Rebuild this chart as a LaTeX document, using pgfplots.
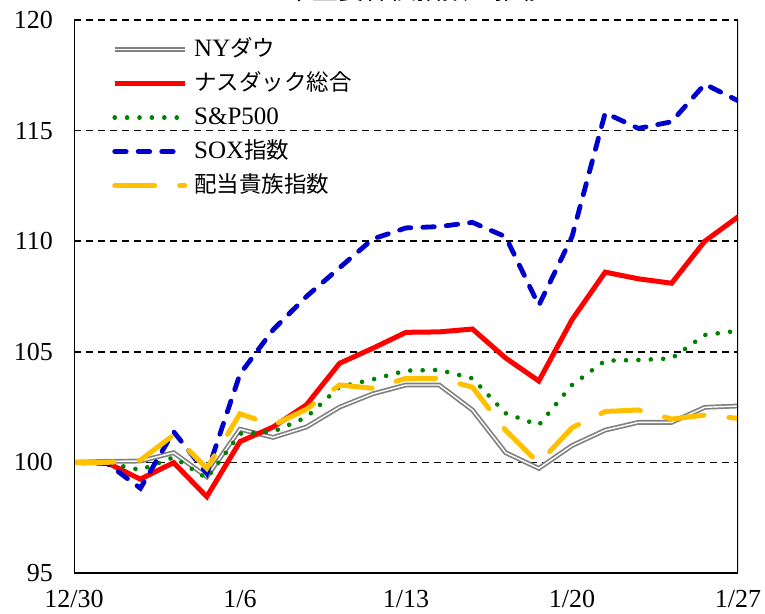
\documentclass[border=0pt]{standalone}
\usepackage{fontspec}
\setmainfont{Liberation Serif}
\newfontfamily\jp{Noto Sans CJK JP}
\usepackage{pgfplots}
\usepackage{pgfplotstable}
\pgfplotsset{compat=1.18}
\definecolor{dowgray}{RGB}{128,128,128}
\definecolor{nasred}{RGB}{255,0,0}
\definecolor{spgreen}{RGB}{0,128,0}
\definecolor{soxblue}{RGB}{0,0,204}
\definecolor{divyellow}{RGB}{255,192,0}
\newcommand{\jpt}[1]{{\jp\fontsize{22.5}{25}\selectfont #1}}
\pgfplotstableread{
i   dow     nas     sp      sox     div
0   100     100     100     100     100
1   100.05  99.98   99.97   99.95   100.0
2   100.06  99.24   99.66   98.83   100.1
3   100.44  99.99   100.23  101.39  101.24
4   99.35   98.45   99.28   99.5    99.73
5   101.5   100.94  101.3   104.0   102.2
6   101.13  101.6   101.39  106.0   101.68
7   101.6   102.6   102.04  107.5   102.4
8   102.5   104.48  103.42  108.8   103.5
9   103.1   105.16  103.75  110.1   103.35
10  103.5   105.88  104.15  110.6   103.8
11  103.5   105.9   104.18  110.66  103.8
12  102.37  106.03  103.8   110.85  103.4
13  100.44  104.72  102.22  110.2   101.45
14  99.73   103.68  101.69  107.1   99.96
15  100.76  106.45  103.5   110.2   101.57
16  101.46  108.6   104.6   115.8   102.3
17  101.81  108.3   104.63  115.1   102.37
18  101.81  108.1   104.7   115.4   101.96
19  102.49  110.0   105.76  117.1   102.14
20  102.55  111.1   105.95  116.35  101.99
}\data
\begin{document}
\begin{tikzpicture}
\useasboundingbox (0,0) rectangle (765pt,613pt);
\clip (0,0) rectangle (765pt,613pt);
\node[anchor=base, inner sep=0pt] at (416pt,613.5pt) {\jp\fontsize{26}{28}\selectfont 米主要株価指数の推移};
\begin{axis}[
  at={(74pt,40pt)}, anchor=south west,
  scale only axis, width=664pt, height=553pt,
  xmin=0, xmax=20, ymin=95, ymax=120,
  xtick={0,5,10,15,20},
  xticklabels={12/30,1/6,1/13,1/20,1/27},
  ytick={95,100,105,110,115,120},
  major tick length=0pt,
  /pgf/number format/assume math mode=true,
  ticklabel style={font=\rmfamily\fontsize{26}{28}\selectfont, inner sep=0pt},
  yticklabel style={xshift=-21pt},
  xticklabel style={yshift=-17pt},
  ymajorgrids,
  major grid style={black, line width=1.6pt, dash pattern=on 7pt off 5pt},
  axis line style={draw=none},
  legend image code/.code={\draw[#1] (0pt,0pt) -- (70pt,0pt);},
  legend style={at={(axis description cs:0,1)}, anchor=north west,
    xshift=38pt, yshift=-17pt, draw=none, fill=none, inner sep=0pt,
    row sep=9pt, column sep=7pt,
    font=\rmfamily\fontsize{25}{25}\selectfont,
    nodes={inner sep=0pt, text height=19pt, text depth=6pt}},
  legend cell align=left,
]
\addplot[draw=dowgray, line width=1.7pt, double=white, double distance=1.4pt, no markers] table[x=i,y=dow] {\data};
\addlegendentry{NY\jpt{ダウ}}
\addplot[draw=nasred, line width=5pt, no markers] table[x=i,y=nas] {\data};
\addlegendentry{\jpt{ナスダック総合}}
\addplot[draw=spgreen, line width=4.6pt, line cap=round, dash pattern=on 0.01pt off 12.4pt, no markers] table[x=i,y=sp] {\data};
\addlegendentry{S\&P500}
\addplot[draw=soxblue, line width=4.8pt, line cap=round, dash pattern=on 11.5pt off 12pt, no markers] table[x=i,y=sox] {\data};
\addlegendentry{SOX\jpt{指数}}
\addplot[draw=divyellow, line width=5pt, line cap=round, dash pattern=on 40pt off 25pt, no markers] table[x=i,y=div] {\data};
\addlegendentry{\jpt{配当貴族指数}}
\draw[black, line width=2pt] (rel axis cs:0,1) -- (rel axis cs:0,0) -- (rel axis cs:1,0) -- (rel axis cs:1,1);
\end{axis}
\end{tikzpicture}
\end{document}
